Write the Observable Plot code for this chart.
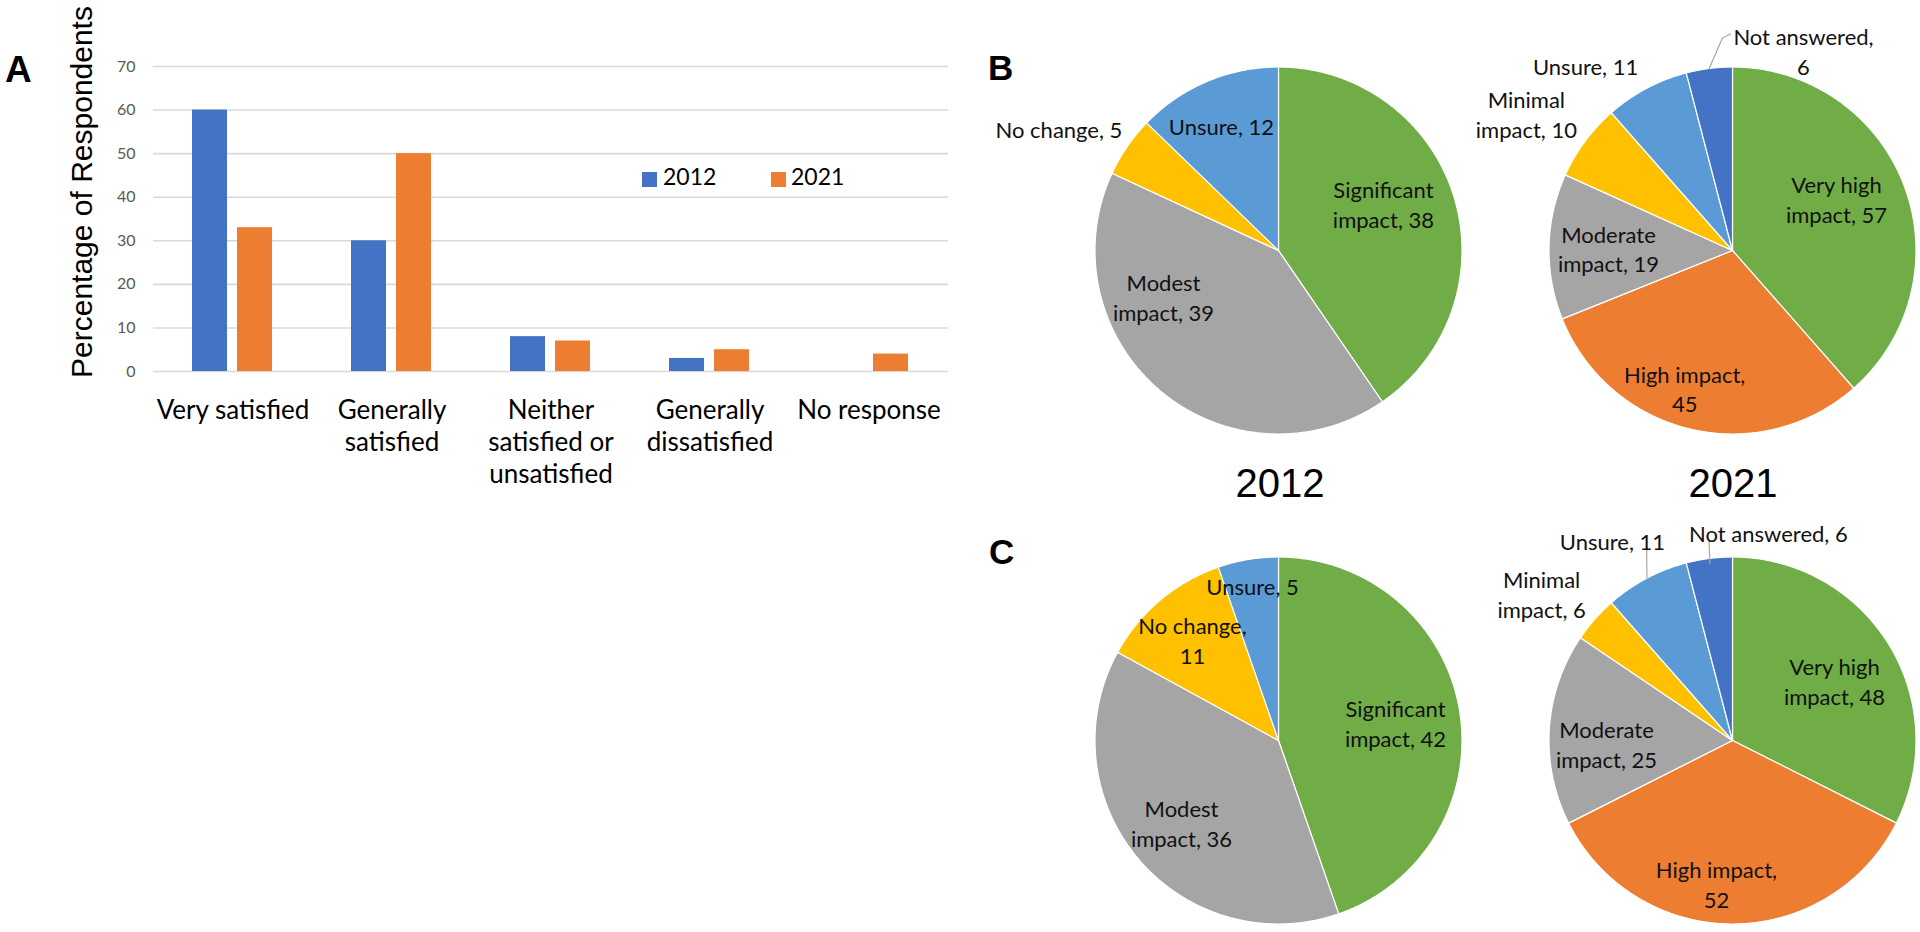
<!DOCTYPE html>
<html><head><meta charset="utf-8">
<script src="https://cdn.jsdelivr.net/npm/d3@7"></script>
<script src="https://cdn.jsdelivr.net/npm/@observablehq/plot@0.6"></script>
<style>
html,body{margin:0;padding:0;width:1920px;height:932px;overflow:hidden;background:#fff;}
#page{position:relative;width:1920px;height:932px;overflow:hidden;}
.abs{position:absolute;white-space:pre;color:#000;}
.abs svg{max-width:none;}
</style></head><body><div id="page"></div>
<script>
// ---------- data ----------
const categories = ["Very satisfied", "Generally satisfied", "Neither satisfied or unsatisfied", "Generally dissatisfied", "No response"];
const categoryTickLabels = ["Very satisfied", "Generally\nsatisfied", "Neither\nsatisfied or\nunsatisfied", "Generally\ndissatisfied", "No response"];
const years = ["2012", "2021"];
const satisfaction2012 = [60, 30, 8, 3, 0];
const satisfaction2021 = [33, 50, 7, 5, 4];
const yTicks = [0, 10, 20, 30, 40, 50, 60, 70];

const impactCats2012 = ["Significant impact", "Modest impact", "No change", "Unsure"];
const impactCats2021 = ["Very high impact", "High impact", "Moderate impact", "Minimal impact", "Unsure", "Not answered"];
const panelB2012 = [38, 39, 5, 12];
const panelB2021 = [57, 45, 19, 10, 11, 6];
const panelC2012 = [42, 36, 11, 5];
const panelC2021 = [48, 52, 25, 6, 11, 6];

// ---------- styles / layout ----------
const barColors = ["#4472C4", "#ED7D31"];
const sliceColors = {
  "Significant impact": "#70AD47", "Very high impact": "#70AD47",
  "Modest impact": "#A5A5A5", "Moderate impact": "#A5A5A5",
  "High impact": "#ED7D31",
  "No change": "#FFC000", "Minimal impact": "#FFC000",
  "Unsure": "#5B9BD5", "Not answered": "#4472C4"
};
// label placement: angle (deg, clockwise from top), radius (fraction of pie radius), wrap style
const placeB2012 = [{a: 66, r: 0.626, wrap: "name"}, {a: 248.4, r: 0.674, wrap: "name"}, {a: 299, r: 1.368, wrap: "none"}, {a: 335.4, r: 0.747, wrap: "none"}];
const placeB2021 = [{a: 63.4, r: 0.634, wrap: "name"}, {a: 199.2, r: 0.793, wrap: "value"}, {a: 271.2, r: 0.676, wrap: "name"}, {a: 303.7, r: 1.35, wrap: "name"}, {a: 321.5, r: 1.286, wrap: "none"}, {a: 19.5, r: 1.159, wrap: "value"}];
const placeC2012 = [{a: 81.3, r: 0.645, wrap: "name"}, {a: 229.8, r: 0.692, wrap: "name"}, {a: 319.6, r: 0.723, wrap: "value"}, {a: 350.5, r: 0.857, wrap: "none"}];
const placeC2021 = [{a: 59.5, r: 0.645, wrap: "name"}, {a: 186.4, r: 0.784, wrap: "value"}, {a: 268.6, r: 0.687, wrap: "name"}, {a: 307.6, r: 1.313, wrap: "name"}, {a: 329, r: 1.27, wrap: "none"}, {a: 9.8, r: 1.15, wrap: "none"}];
// leader lines: slice index and polar path (null angle = slice middle)
const leadersB2021 = [{i: 5, path: [[null, 1.0], [357.3, 1.159], [359.5, 1.18]]}];
const leadersC2021 = [{i: 5, path: [[null, 0.97], [353.3, 1.10]]}, {i: 4, path: [[332.2, 1.0], [336, 1.15]]}];

const R = 183.5;
const page = document.getElementById("page");

function place(node, left, top) {
  const d = document.createElement("div");
  d.className = "abs";
  d.style.left = left + "px"; d.style.top = top + "px";
  d.appendChild(node);
  page.appendChild(d);
  return d;
}
function addText(txt, {x, baseline, size, family = "'Liberation Sans', Arial, sans-serif", weight = "normal", anchor = "start", asc = 0.905, desc = 0.212, color = "#000"}) {
  const d = document.createElement("div");
  d.className = "abs";
  d.textContent = txt;
  d.style.font = `${weight} ${size}px ${family}`;
  d.style.lineHeight = ((asc + desc) * size) + "px";
  d.style.top = (baseline - asc * size) + "px";
  d.style.left = x + "px";
  d.style.color = color;
  if (anchor === "middle") d.style.transform = "translateX(-50%)";
  page.appendChild(d);
  return d;
}

// ---------- Panel A: grouped bars ----------
const barRows = categories.flatMap((c, i) => [
  {category: c, year: years[0], value: satisfaction2012[i]},
  {category: c, year: years[1], value: satisfaction2021[i]}
]);
const tickText = new Map(categories.map((c, i) => [c, categoryTickLabels[i]]));
const bar = Plot.plot({
  width: 960, height: 500,
  marginLeft: 153, marginRight: 12, marginTop: 66, marginBottom: 129,
  style: {background: "transparent", fontFamily: "Lato, sans-serif", overflow: "visible", color: "#000"},
  fx: {domain: categories, padding: 0, label: null},
  x: {domain: years, paddingInner: 0.217, paddingOuter: 0.837, axis: null},
  y: {domain: [0, 70], axis: null},
  color: {domain: years, range: barColors},
  marks: [
    Plot.gridY(yTicks, {stroke: "#d9d9d9", strokeOpacity: 1, strokeWidth: 1.6}),
    Plot.axisY(yTicks, {tickSize: 0, tickPadding: 18, fontSize: 16, fill: "#595959", label: null}),
    Plot.axisFx({anchor: "bottom", tickSize: 0, tickPadding: 25, fontSize: 26, lineHeight: 1.23, label: null, tickFormat: c => tickText.get(c), fill: "#000"}),
    Plot.barY(barRows, {fx: "category", x: "year", y: "value", fill: "year"})
  ]
});
place(bar, 0, 0);

// y-axis title
const yt = document.createElement("div");
yt.className = "abs";
yt.textContent = "Percentage of Respondents";
yt.style.font = "30px 'Liberation Sans', Arial, sans-serif";
yt.style.lineHeight = (1.117 * 30) + "px";
yt.style.left = "81.5px"; yt.style.top = "191.5px";
yt.style.transform = "translate(-50%,-50%) rotate(-90deg)";
page.appendChild(yt);

// legend
years.forEach((yr, i) => {
  const sw = document.createElement("div");
  sw.className = "abs";
  sw.style.left = (642 + i * 129) + "px"; sw.style.top = "172px";
  sw.style.width = "15px"; sw.style.height = "15px";
  sw.style.background = barColors[i];
  page.appendChild(sw);
  addText(yr, {x: 663 + i * 128, baseline: 185.5, size: 23, family: "Lato, sans-serif", asc: 0.987, desc: 0.213});
});

// ---------- Panels B and C: pies ----------
function piePlot(cats, vals, placement, leaders) {
  const arcs = d3.pie().sort(null).value(d => d)(vals);
  const pts = [];
  arcs.forEach((a, i) => {
    pts.push({k: cats[i], x: 0, y: 0});
    const n = Math.max(2, Math.ceil((a.endAngle - a.startAngle) / (Math.PI / 360)));
    for (let j = 0; j <= n; j++) {
      const t = a.startAngle + (a.endAngle - a.startAngle) * j / n;
      pts.push({k: cats[i], x: Math.sin(t), y: Math.cos(t)});
    }
  });
  const labels = arcs.map((a, i) => {
    const p = placement[i];
    const t = p.a * Math.PI / 180;
    const name = p.wrap === "name" ? cats[i].replace(" impact", "\nimpact") : cats[i];
    const text = name + "," + (p.wrap === "value" ? "\n" : " ") + vals[i];
    return {x: p.r * Math.sin(t), y: p.r * Math.cos(t), text};
  });
  const lead = [];
  (leaders || []).forEach((L, li) => {
    const a = arcs[L.i];
    const mid = (a.startAngle + a.endAngle) / 2;
    L.path.forEach(([ang, r]) => {
      const t = ang === null ? mid : ang * Math.PI / 180;
      lead.push({id: li, x: r * Math.sin(t), y: r * Math.cos(t)});
    });
  });
  return Plot.plot({
    width: 600, height: 520, margin: 0,
    style: {background: "transparent", overflow: "visible", fontFamily: "Lato, sans-serif"},
    x: {domain: [-300 / R, 300 / R], axis: null},
    y: {domain: [-260 / R, 260 / R], axis: null},
    color: {domain: cats, range: cats.map(c => sliceColors[c])},
    marks: [
      Plot.line(pts, {x: "x", y: "y", z: "k", fill: "k", stroke: "white", strokeWidth: 1.2, curve: "linear-closed"}),
      Plot.line(lead, {x: "x", y: "y", z: "id", stroke: "#a6a6a6", strokeWidth: 1.2}),
      Plot.text(labels, {x: "x", y: "y", text: "text", fontSize: 22, lineHeight: 1.36, fill: "#111"})
    ]
  });
}
const pies = [
  {cats: impactCats2012, vals: panelB2012, place: placeB2012, leaders: null, cx: 1278, cy: 249.5},
  {cats: impactCats2021, vals: panelB2021, place: placeB2021, leaders: leadersB2021, cx: 1732, cy: 249.5},
  {cats: impactCats2012, vals: panelC2012, place: placeC2012, leaders: null, cx: 1278, cy: 740},
  {cats: impactCats2021, vals: panelC2021, place: placeC2021, leaders: leadersC2021, cx: 1732, cy: 740}
];
pies.forEach(p => place(piePlot(p.cats, p.vals, p.place, p.leaders), p.cx - 300, p.cy - 260));

// ---------- panel letters and year captions ----------
addText("A", {x: 5, baseline: 82, size: 37, weight: "bold"});
addText("B", {x: 988, baseline: 80, size: 35, weight: "bold"});
addText("C", {x: 989, baseline: 564, size: 35, weight: "bold"});
addText(years[0], {x: 1280, baseline: 497, size: 40, anchor: "middle"});
addText(years[1], {x: 1733, baseline: 497, size: 40, anchor: "middle"});
</script>
</body></html>
